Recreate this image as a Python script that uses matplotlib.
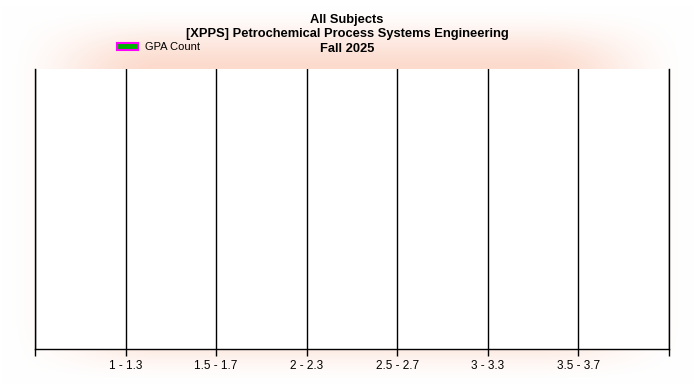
import numpy as np
import matplotlib.pyplot as plt
from matplotlib.patches import Rectangle

# GPA bins and counts (no students in any bin)
bins = ["1 - 1.3", "1.5 - 1.7", "2 - 2.3", "2.5 - 2.7", "3 - 3.3", "3.5 - 3.7"]
counts = [0, 0, 0, 0, 0, 0]

title_lines = ["All Subjects",
               "[XPPS] Petrochemical Process Systems Engineering",
               "Fall 2025"]

FONT = ["Liberation Sans", "DejaVu Sans"]

W, H = 694, 389
fig = plt.figure(figsize=(W / 100, H / 100), dpi=100)
fig.patch.set_facecolor("white")

# soft peach glow behind everything
bg = fig.add_axes([0, 0, 1, 1])
xs = np.arange(W)
ys = np.arange(H)
def ramp(v, a, b):
    t = np.clip((v - a) / (b - a), 0, 1)
    return t * t * (3 - 2 * t)
gx = ramp(xs, 0, 160) * ramp(W - xs, 0, 160)
gy = ramp(ys, 5, 72) * ramp(H - ys, 5, 72)
g = np.outer(gy, gx)
peak = np.array([252, 218, 204]) / 255.0
img = 1 - g[..., None] * (1 - peak)
bg.imshow(img, extent=[0, W, H, 0], aspect="auto", interpolation="bilinear")
bg.set_xlim(0, W)
bg.set_ylim(H, 0)
bg.axis("off")

ax = fig.add_axes([35 / W, 1 - 349 / H, 634 / W, 280 / H])
ax.set_facecolor("white")
pos = np.arange(1, len(bins) + 1)
ax.bar(pos, counts, width=0.6, color="#00b000", linewidth=0)
ax.set_xlim(0, len(bins) + 1)
ax.set_ylim(0, 1)

ax.set_xticks(np.arange(0, len(bins) + 2))
ax.set_xticklabels([""] + bins + [""], fontsize=8.5, family=FONT)
ax.tick_params(axis="x", length=5, width=1, color="black", pad=3)
ax.set_yticks([])
ax.xaxis.grid(True, color="black", linewidth=1)
ax.set_axisbelow(False)
for s in ["left", "right", "bottom"]:
    ax.spines[s].set_color("black")
    ax.spines[s].set_linewidth(1)
ax.spines["top"].set_visible(False)

for i, t in enumerate(title_lines):
    fig.text(0.5, 1 - (19.5 + 15 * i) / H, t, ha="center", va="center",
             fontsize=9.3, fontweight="bold", family=FONT)

fig.patches.append(Rectangle((117 / W, 1 - 50 / H), 21 / W, 7 / H,
                             transform=fig.transFigure, facecolor="#00b000",
                             edgecolor="#ff00ff", linewidth=1.5))
fig.text(145 / W, 1 - 46.5 / H, "GPA Count", ha="left", va="center", fontsize=8,
         family=FONT)

fig.savefig("out.png", dpi=100, facecolor=fig.get_facecolor())
